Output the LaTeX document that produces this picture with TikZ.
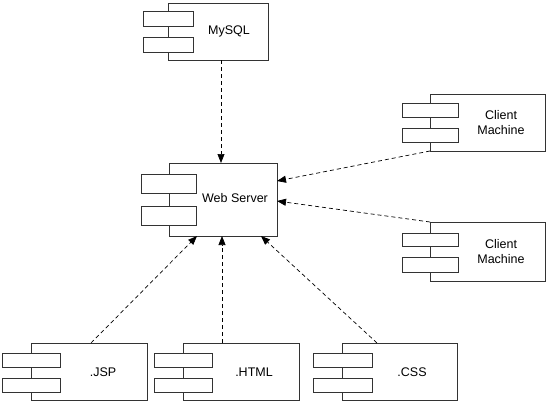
\documentclass[tikz,border=0pt]{standalone}
\usepackage{fontspec}
\setmainfont{Liberation Sans}
\usetikzlibrary{arrows.meta}
\begin{document}
\begin{tikzpicture}[x=1pt,y=-1pt,
  comp/.style={draw=black!80,line width=0.8pt,fill=white},
  port/.style={draw=black!80,line width=0.8pt,fill=white},
  lbl/.style={font=\fontsize{12.5}{15}\selectfont,align=center,text=black},
  dep/.style={draw=black,line width=0.7pt,dash pattern=on 4pt off 3pt,-{Triangle[length=9pt,width=7pt]}}]
\useasboundingbox (0,0) rectangle (548,404);
\fill[white] (0,0) rectangle (548,404);
% MySQL
\draw[comp] (168,3) rectangle (268,60);
\draw[port] (143,11) rectangle (193,26);
\draw[port] (143,37) rectangle (193,52);
\node[lbl] (mysql) at (229,31) {MySQL};
\coordinate (mysqlB) at (221,60);
% Web Server
\draw[comp] (169,163) rectangle (277,236);
\draw[port] (141,174) rectangle (196,193);
\draw[port] (141,206) rectangle (196,225);
\node[lbl] (web) at (235,198) {Web Server};
\coordinate (webT) at (221,163);
\coordinate (webR1) at (277,181);
\coordinate (webR2) at (277,201);
\coordinate (webB1) at (197,236);
\coordinate (webB2) at (222,236);
\coordinate (webB3) at (261,236);
% Client 1
\draw[comp] (430,94) rectangle (545,151);
\draw[port] (402,103) rectangle (458,117);
\draw[port] (402,128) rectangle (458,142);
\node[lbl] (cm1) at (501,123) {Client\\Machine};
\coordinate (cm1C) at (430,151);
% Client 2
\draw[comp] (430,222) rectangle (545,281);
\draw[port] (402,233) rectangle (458,246);
\draw[port] (402,257) rectangle (458,272);
\node[lbl] (cm2) at (501,252) {Client\\Machine};
\coordinate (cm2C) at (430,222);
% JSP
\draw[comp] (31,343) rectangle (147,400);
\draw[port] (2,353) rectangle (60,367);
\draw[port] (2,378) rectangle (60,392);
\node[lbl] (jsp) at (103,372) {.JSP};
\coordinate (jspT) at (91,343);
% HTML
\draw[comp] (183,343) rectangle (299,400);
\draw[port] (154,353) rectangle (212,367);
\draw[port] (154,378) rectangle (212,392);
\node[lbl] (html) at (254,372) {.HTML};
\coordinate (htmlT) at (222,343);
% CSS
\draw[comp] (342,343) rectangle (457,400);
\draw[port] (313,353) rectangle (372,367);
\draw[port] (313,378) rectangle (372,392);
\node[lbl] (css) at (412,372) {.CSS};
\coordinate (cssT) at (377,343);
% dependencies
\draw[dep] (mysqlB) -- (webT);
\draw[dep] (cm1C) -- (webR1);
\draw[dep] (cm2C) -- (webR2);
\draw[dep] (jspT) -- (webB1);
\draw[dep] (htmlT) -- (webB2);
\draw[dep] (cssT) -- (webB3);
\end{tikzpicture}
\end{document}
